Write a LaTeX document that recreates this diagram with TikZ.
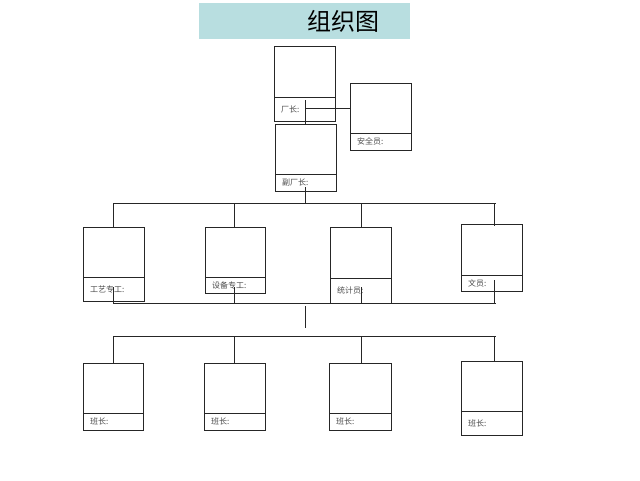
\documentclass[tikz,border=0pt]{standalone}
\usepackage{fontspec}
\newfontfamily\cjk{Noto Sans CJK SC}
\definecolor{banner}{RGB}{184,222,224}
\newcommand\orgbox[7]{%
  \node[boxpart, minimum width={#4-#2}, minimum height={#6-#3}] (#1) at (#2,#3) {};
  \node[boxpart, minimum width={#4-#2}, minimum height={#5-#6}] (#1l) at (#2,#6) {};
  \node[lbl] (#1t) at ({#2+7},{(#6+#5)/2}) {#7};}
\begin{document}
\begin{tikzpicture}[x=1pt,y=-1pt,
  boxpart/.style={draw=black!85, line width=0.7pt, inner sep=0pt, outer sep=0pt, anchor=north west},
  lbl/.style={font=\cjk\fontsize{8}{9}\selectfont, text=black!70, anchor=west, inner sep=0pt},
  conn/.style={draw=black!85, line width=0.7pt}]
\useasboundingbox (0,0) rectangle (640,480);
\fill[white] (0,0) rectangle (640,480);
\node[fill=banner, minimum width=211, minimum height=36, anchor=north west, inner sep=0pt] (banner) at (199,3) {};
\node[font=\cjk\fontsize{24}{26}\selectfont, anchor=center, inner sep=0pt] (title) at (343,21) {组织图};
% boxes
\orgbox{cz}{274}{46}{335}{121}{97}{厂长:}
\orgbox{aq}{350}{83}{411}{150}{133}{安全员:}
\orgbox{fc}{275}{124}{336}{191}{174}{副厂长:}
\orgbox{ga}{83}{227}{144}{301}{277}{工艺专工:}
\orgbox{gb}{205}{227}{265}{293}{277}{设备专工:}
\orgbox{gc}{330}{227}{391}{303}{278}{统计员:}
\orgbox{gd}{461}{224}{522}{291}{275}{文员:}
\orgbox{ba}{83}{363}{143}{430}{413}{班长:}
\orgbox{bb}{204}{363}{265}{430}{413}{班长:}
\orgbox{bc}{329}{363}{391}{430}{413}{班长:}
\orgbox{bd}{461}{361}{522}{435}{411}{班长:}
% connectors
\coordinate (c1) at (305,100);
\coordinate (c2) at (305,108);
\draw[conn] (c1) -- (c1 |- fc.north);
\draw[conn] (c2) -- (aq.west);
\coordinate (f1) at (305,187);
\coordinate (bus1) at (305,203);
\draw[conn] (f1) -- (bus1);
\coordinate (u1) at (113,203);
\coordinate (u2) at (234,203);
\coordinate (u3) at (361,203);
\coordinate (u4) at (494,203);
\coordinate (u5) at (496,203);
\draw[conn] (u1) -- (u5);
\draw[conn] (u1) -- (u1 |- ga.north);
\draw[conn] (u2) -- (u2 |- gb.north);
\draw[conn] (u3) -- (u3 |- gc.north);
\draw[conn] (u4) -- ++(0,23);
% second bus
\coordinate (m1) at (113,303);
\coordinate (m2) at (234,303);
\coordinate (m3) at (361,303);
\coordinate (m4) at (494,303);
\coordinate (m5) at (496,303);
\draw[conn] (m1) -- (m5);
\draw[conn] (m1) -- ++(0,-16);
\draw[conn] (m2) -- ++(0,-16);
\draw[conn] (m3) -- ++(0,-16);
\draw[conn] (m4) -- ++(0,-23);
\coordinate (k1) at (305,306);
\coordinate (k2) at (305,328);
\draw[conn] (k1) -- (k2);
% third bus
\coordinate (l1) at (113,336);
\coordinate (l2) at (234,336);
\coordinate (l3) at (361,336);
\coordinate (l4) at (494,336);
\coordinate (l5) at (496,336);
\draw[conn] (l1) -- (l5);
\draw[conn] (l1) -- (l1 |- ba.north);
\draw[conn] (l2) -- (l2 |- bb.north);
\draw[conn] (l3) -- (l3 |- bc.north);
\draw[conn] (l4) -- (l4 |- bd.north);
\end{tikzpicture}
\end{document}
